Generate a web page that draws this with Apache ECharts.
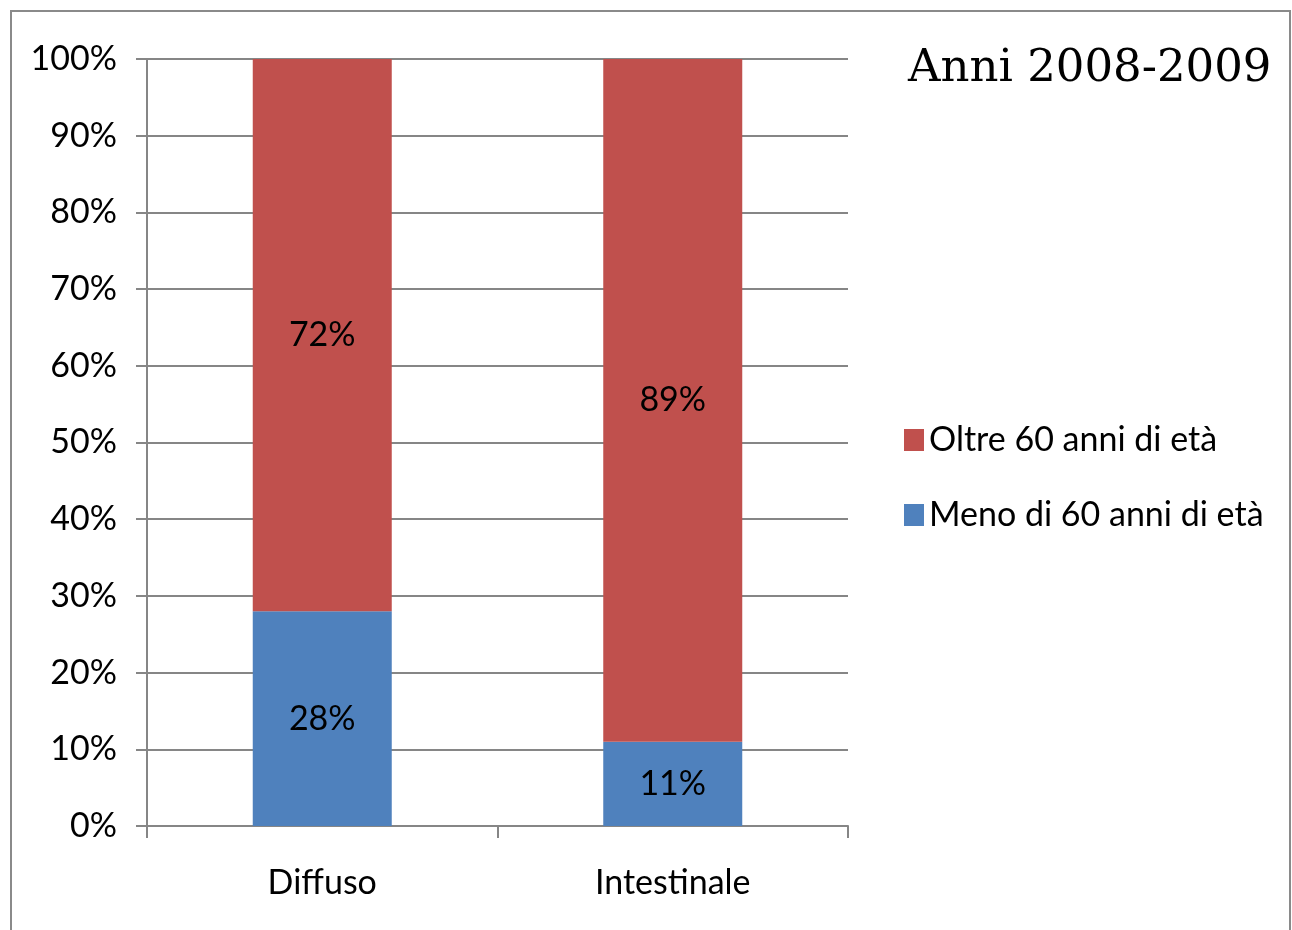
<!DOCTYPE html>
<html><head><meta charset="utf-8">
<script src="https://cdn.jsdelivr.net/npm/echarts@6/dist/echarts.min.js"></script>
<style>html,body{margin:0;padding:0;background:#fff}#c{width:1292px;height:930px}</style>
</head><body><div id="c"></div>
<script>
const categories = ['Diffuso', 'Intestinale'];
const menoDi60 = [28, 11];
const oltre60 = [72, 89];
const seriesNames = ['Meno di 60 anni di età', 'Oltre 60 anni di età'];
const titleText = 'Anni 2008-2009';

const font = 'Lato, "Open Sans", sans-serif';
const fs = 34;
const chart = echarts.init(document.getElementById('c'), null, {renderer: 'canvas'});
chart.setOption({
  backgroundColor: '#fff',
  animation: false,
  title: {
    text: titleText, left: 903, top: 42,
    textStyle: {fontFamily: '"DejaVu Serif", Georgia, serif', fontSize: 45, fontWeight: 'normal', color: '#000'}
  },
  graphic: [{
    type: 'polyline', silent: true,
    shape: {points: [[11, 931], [11, 11], [1290, 11], [1290, 931]]},
    style: {stroke: '#8a8a8a', lineWidth: 2, fill: null}
  }],
  legend: {
    orient: 'vertical', left: 899, top: 418,
    data: [seriesNames[1], seriesNames[0]],
    itemWidth: 20, itemHeight: 22, itemGap: 41,
    icon: 'rect',
    textStyle: {fontFamily: font, fontSize: fs, color: '#000'}
  },
  grid: {left: 147, right: 444, top: 59, bottom: 104, containLabel: false},
  xAxis: {
    type: 'category', data: categories,
    axisLine: {lineStyle: {color: '#868686', width: 2}},
    axisTick: {show: true, length: 12, lineStyle: {color: '#868686', width: 2}},
    axisLabel: {fontFamily: font, fontSize: fs, color: '#000', margin: 40}
  },
  yAxis: {
    type: 'value', min: 0, max: 100, interval: 10,
    axisLine: {show: true, lineStyle: {color: '#868686', width: 2}},
    axisTick: {show: true, length: 11, lineStyle: {color: '#868686', width: 2}},
    splitLine: {lineStyle: {color: '#868686', width: 2}},
    axisLabel: {formatter: '{value}%', fontFamily: font, fontSize: fs, color: '#000', margin: 30}
  },
  series: [
    {name: seriesNames[0], type: 'bar', stack: 's', data: menoDi60, barWidth: 139,
     itemStyle: {color: '#4F81BD'},
     label: {show: true, position: 'inside', formatter: '{c}%', fontFamily: font, fontSize: fs, color: '#000'}},
    {name: seriesNames[1], type: 'bar', stack: 's', data: oltre60, barWidth: 139,
     itemStyle: {color: '#C0504D'},
     label: {show: true, position: 'inside', formatter: '{c}%', fontFamily: font, fontSize: fs, color: '#000'}}
  ]
});
</script></body></html>
